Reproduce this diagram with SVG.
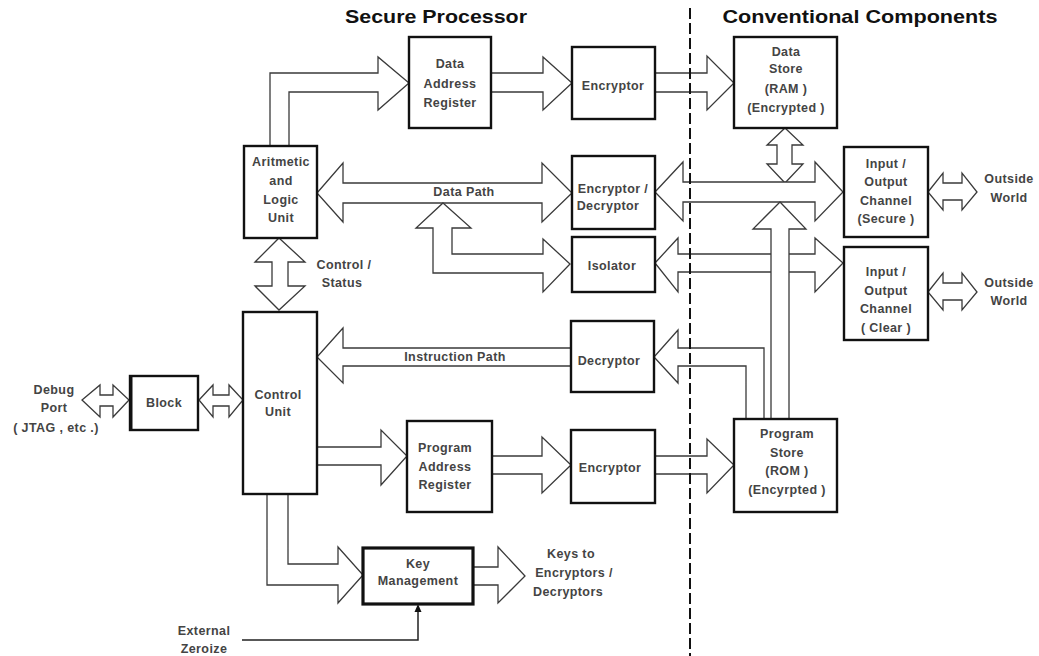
<svg xmlns="http://www.w3.org/2000/svg" width="1039" height="656" viewBox="0 0 1039 656">
<style>
  .box { fill: #fff; stroke: #111; stroke-width: 2.4; }
  .arr { fill: #fff; stroke: #3a3a3a; stroke-width: 1.3; stroke-linejoin: miter; }
  .t { font-family: "Liberation Sans", Arial, sans-serif; font-size: 12.5px; font-weight: bold; fill: #444; text-anchor: middle; letter-spacing: 0.4px; }
  .title { font-family: "Liberation Sans", Arial, sans-serif; font-size: 19px; font-weight: bold; fill: #111; text-anchor: middle; }
  .thin { fill: none; stroke: #222; stroke-width: 1.5; }
</style>
<rect width="1039" height="656" fill="#fff"/>

<text class="title" x="436" y="23" textLength="182" lengthAdjust="spacingAndGlyphs">Secure Processor</text>
<text class="title" x="860" y="23" textLength="275" lengthAdjust="spacingAndGlyphs">Conventional Components</text>

<g id="connectors">
  <!-- ALU -> DAR -->
  <path class="arr" d="M270,146 V73 H378 V57 L409,83 L378,110 V92 H289 V146"/>
  <!-- DAR -> Encryptor -->
  <path class="arr" d="M491,73 H543 V57 L572,83 L543,110 V92 H491"/>
  <!-- Encryptor -> Data Store -->
  <path class="arr" d="M655,73 H707 V56 L734,83 L707,110 V92 H655"/>
  <!-- Data Path double arrow -->
  <path class="arr" d="M317,193 L343,163 V183 H542 V163 L572,193 L542,222 V203 H343 V222 Z"/>
  <!-- Data path -> Isolator branch -->
  <path class="arr" d="M443,203 L471,228 H452 V254 H543 V239 L570,264 L543,292 V273 H433 V228 H416 Z"/>
  <!-- Control / Status -->
  <path class="arr" d="M279,238 L305,262 H288 V286 H305 L279,310 L255,286 H272 V262 H255 Z"/>
  <!-- Data Store <-> bus -->
  <path class="arr" d="M785,128 L803,145 H792 V164 H803 L785,183 L767,164 H777 V145 H767 Z"/>
  <!-- E/D <-> IO secure -->
  <path class="arr" d="M655,192 L683,162 V182 H815 V162 L843,192 L815,221 V202 H683 V221 Z"/>
  <!-- Isolator <-> IO clear -->
  <path class="arr" d="M655,263 L678,238 V254 H815 V238 L843,263 L815,292 V272 H678 V292 Z"/>
  <!-- Program Store -> up to bus -->
  <path class="arr" d="M771,419 V229 H753 L780,202 L806,229 H789 V419"/>
  <!-- Program Store -> Decryptor -->
  <path class="arr" d="M746,419 V366 H678 V383 L654,357 L678,330 V348 H764 V419"/>
  <!-- Instruction Path -->
  <path class="arr" d="M571,348 H343 V328 L317,357 L343,383 V366 H571"/>
  <!-- CU -> PAR -->
  <path class="arr" d="M317,447 H381 V430 L407,456 L381,485 V465 H317"/>
  <!-- PAR -> Encryptor -->
  <path class="arr" d="M492,456 H542 V437 L571,465 L542,493 V474 H492"/>
  <!-- Encryptor -> Program Store -->
  <path class="arr" d="M655,456 H707 V439 L734,465 L707,493 V474 H655"/>
  <!-- CU -> Key Management -->
  <path class="arr" d="M288,494 V564 H338 V547 L363,575 L338,603 V585 H267 V494"/>
  <!-- Key Management -> Keys -->
  <path class="arr" d="M473,567 H498 V547 L525,576 L498,603 V585 H473"/>
  <!-- Debug <-> Block -->
  <path class="arr" d="M82,400 L100,385 V395 H113 V385 L129,400 L113,417 V406 H100 V417 Z"/>
  <!-- Block <-> CU -->
  <path class="arr" d="M199,400 L213,385 V395 H229 V385 L243,400 L229,417 V406 H213 V417 Z"/>
  <!-- Outside World arrows -->
  <path class="arr" d="M928,192 L943,173 V183 H962 V173 L977,192 L962,210 V200 H943 V210 Z"/>
  <path class="arr" d="M928,292 L943,273 V283 H962 V273 L977,292 L962,310 V300 H943 V310 Z"/>
  <!-- External Zeroize -->
  <path class="thin" d="M242,640 H418 V610"/>
  <path d="M418,604 L414.5,612 L421.5,612 Z" fill="#111"/>
</g>

<line id="divider" x1="690" y1="8" x2="690" y2="656" stroke="#111" stroke-width="2" stroke-dasharray="11 4"/>

<g id="dar">
  <rect class="box" x="409" y="37" width="82" height="91"/>
  <text class="t" x="450" y="67.5">Data</text>
  <text class="t" x="450" y="87.5">Address</text>
  <text class="t" x="450" y="106.5">Register</text>
</g>
<g id="encryptor-data">
  <rect class="box" x="572" y="47" width="83" height="72"/>
  <text class="t" x="613" y="89.5">Encryptor</text>
</g>
<g id="data-store">
  <rect class="box" x="734" y="37" width="103" height="91"/>
  <text class="t" x="786" y="55.5">Data</text>
  <text class="t" x="786" y="73">Store</text>
  <text class="t" x="786" y="92.5">(RAM )</text>
  <text class="t" x="786" y="111.5">(Encrypted )</text>
</g>
<g id="alu">
  <rect class="box" x="244" y="146" width="73" height="92"/>
  <text class="t" x="281" y="166">Aritmetic</text>
  <text class="t" x="281" y="184.5">and</text>
  <text class="t" x="281" y="203.5">Logic</text>
  <text class="t" x="281" y="221.5">Unit</text>
</g>
<g id="data-path-label">
  <text class="t" x="464" y="196">Data Path</text>
</g>
<g id="enc-dec">
  <rect class="box" x="572" y="156" width="83" height="73"/>
  <text class="t" x="613" y="192.5">Encryptor /</text>
  <text class="t" x="608" y="209.5">Decryptor</text>
</g>
<g id="isolator">
  <rect class="box" x="572" y="237" width="83" height="55"/>
  <text class="t" x="612" y="270">Isolator</text>
</g>
<g id="control-status-label">
  <text class="t" x="344" y="268.5">Control /</text>
  <text class="t" x="342" y="286.5">Status</text>
</g>
<g id="io-secure">
  <rect class="box" x="844" y="147" width="84" height="90"/>
  <text class="t" x="886" y="167.5">Input /</text>
  <text class="t" x="886" y="185.5">Output</text>
  <text class="t" x="886" y="204.5">Channel</text>
  <text class="t" x="886" y="222.5">(Secure )</text>
</g>
<g id="io-clear">
  <rect class="box" x="844" y="247" width="84" height="93"/>
  <text class="t" x="886" y="275.5">Input /</text>
  <text class="t" x="886" y="294.5">Output</text>
  <text class="t" x="886" y="312.5">Channel</text>
  <text class="t" x="886" y="331.5">( Clear )</text>
</g>
<g id="outside-world-1">
  <text class="t" x="1009" y="182.5">Outside</text>
  <text class="t" x="1009" y="201.5">World</text>
</g>
<g id="outside-world-2">
  <text class="t" x="1009" y="286.5">Outside</text>
  <text class="t" x="1009" y="304.5">World</text>
</g>
<g id="instruction-path-label">
  <text class="t" x="455" y="360.5">Instruction Path</text>
</g>
<g id="decryptor">
  <rect class="box" x="571" y="321" width="83" height="71"/>
  <text class="t" x="609" y="364.5">Decryptor</text>
</g>
<g id="debug-port">
  <text class="t" x="54" y="393.5">Debug</text>
  <text class="t" x="54" y="411.5">Port</text>
  <text class="t" x="56" y="431.5">( JTAG , etc .)</text>
</g>
<g id="block">
  <rect class="box" x="130" y="376" width="68" height="54"/>
  <line x1="131" y1="376" x2="131" y2="430" stroke="#111" stroke-width="3"/>
  <text class="t" x="164" y="406.5">Block</text>
</g>
<g id="control-unit">
  <rect class="box" x="243" y="312" width="74" height="182"/>
  <text class="t" x="278" y="398.5">Control</text>
  <text class="t" x="278" y="415.5">Unit</text>
</g>
<g id="par">
  <rect class="box" x="407" y="421" width="85" height="91"/>
  <text class="t" x="445" y="451.5">Program</text>
  <text class="t" x="445" y="470.5">Address</text>
  <text class="t" x="445" y="488.5">Register</text>
</g>
<g id="encryptor-program">
  <rect class="box" x="571" y="430" width="84" height="73"/>
  <text class="t" x="610" y="471.5">Encryptor</text>
</g>
<g id="program-store">
  <rect class="box" x="734" y="419" width="103" height="93"/>
  <text class="t" x="787" y="437.5">Program</text>
  <text class="t" x="787" y="456.5">Store</text>
  <text class="t" x="787" y="474.5">(ROM )</text>
  <text class="t" x="787" y="493.5">(Encyrpted )</text>
</g>
<g id="key-management">
  <rect class="box" x="363" y="548" width="110" height="56" style="stroke-width:3.2"/>
  <text class="t" x="418" y="567.5">Key</text>
  <text class="t" x="418" y="584.5">Management</text>
</g>
<g id="keys-to">
  <text class="t" x="571" y="557.5">Keys to</text>
  <text class="t" x="574" y="576.5">Encryptors /</text>
  <text class="t" x="568" y="595.5">Decryptors</text>
</g>
<g id="external-zeroize">
  <text class="t" x="204" y="634.5">External</text>
  <text class="t" x="204" y="652.5">Zeroize</text>
</g>
</svg>
